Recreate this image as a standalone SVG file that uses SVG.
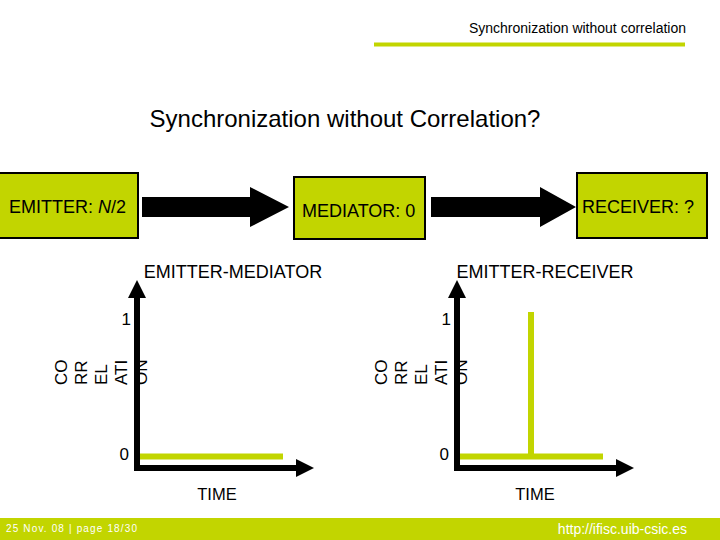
<svg xmlns="http://www.w3.org/2000/svg" width="720" height="540" viewBox="0 0 720 540">
<style>
text{font-family:"Liberation Sans",Arial,sans-serif;fill:#000}
.box{fill:#c2d500;stroke:#000;stroke-width:2}
.lbl{font-size:18px}
.ax{stroke:#000;stroke-width:6;fill:none}
.g{stroke:#c2d500;stroke-width:6;fill:none}
.tick{font-size:17px;text-anchor:end}
.vt{font-size:17px}
.mid{text-anchor:middle}
</style>
<defs>
<marker id="ah" viewBox="0 0 10 10" refX="0" refY="5" markerWidth="3" markerHeight="3" orient="auto" markerUnits="strokeWidth">
<path d="M0,0 L10,5 L0,10 z" fill="#000"/>
</marker>
</defs>
<rect width="720" height="540" fill="#fff"/>
<text x="686" y="33" font-size="14" text-anchor="end">Synchronization without correlation</text>
<rect x="374" y="42.5" width="311" height="4" fill="#c2d500"/>
<text x="345" y="127" font-size="24" class="mid">Synchronization without Correlation?</text>

<g id="connectors">
<path d="M142,197 H250 V187 L289,207 L250,227 V217 H142 z" fill="#000"/>
<path d="M431,197 H540 V187 L576,207 L540,227 V217 H431 z" fill="#000"/>
</g>

<g id="emitter">
<rect class="box" x="-1" y="173" width="139" height="65"/>
<text class="lbl" x="9" y="213">EMITTER: <tspan font-style="italic">N</tspan>/2</text>
</g>
<g id="mediator">
<rect class="box" x="294" y="177" width="131" height="62"/>
<text class="lbl" x="302" y="217">MEDIATOR: 0</text>
</g>
<g id="receiver">
<rect class="box" x="577" y="173" width="130" height="65"/>
<text class="lbl" x="582" y="213">RECEIVER: ?</text>
</g>

<g id="chart-emitter-mediator">
<text x="233" y="278" font-size="18" class="mid">EMITTER-MEDIATOR</text>
<path class="ax" d="M137,471 V298" marker-end="url(#ah)"/>
<path class="ax" d="M134,468 H296" marker-end="url(#ah)"/>
<path class="g" d="M140,456.5 H283"/>
<text class="tick" x="131" y="325">1</text>
<text class="tick" x="129" y="460">0</text>
<text class="vt" transform="translate(67,385) rotate(-90)">CO</text>
<text class="vt" transform="translate(87,385) rotate(-90)">RR</text>
<text class="vt" transform="translate(107,385) rotate(-90)">EL</text>
<text class="vt" transform="translate(127,385) rotate(-90)">ATI</text>
<text class="vt" transform="translate(147,385) rotate(-90)">ON</text>
<text x="217" y="500" font-size="16.5" class="mid">TIME</text>
</g>

<g id="chart-emitter-receiver">
<text x="545" y="278" font-size="18" class="mid">EMITTER-RECEIVER</text>
<path class="ax" d="M457,471 V298" marker-end="url(#ah)"/>
<path class="ax" d="M454,468 H616" marker-end="url(#ah)"/>
<path class="g" d="M460,456.5 H603 M531,312 V456"/>
<text class="tick" x="451" y="325">1</text>
<text class="tick" x="449" y="460">0</text>
<text class="vt" transform="translate(387,385) rotate(-90)">CO</text>
<text class="vt" transform="translate(407,385) rotate(-90)">RR</text>
<text class="vt" transform="translate(427,385) rotate(-90)">EL</text>
<text class="vt" transform="translate(447,385) rotate(-90)">ATI</text>
<text class="vt" transform="translate(467,385) rotate(-90)">ON</text>
<text x="535" y="500" font-size="16.5" class="mid">TIME</text>
</g>

<rect x="0" y="518" width="720" height="22" fill="#c2d500"/>
<text x="6" y="532" font-size="10" textLength="131" lengthAdjust="spacing" style="fill:#fff">25 Nov. 08 |  page 18/30</text>
<text x="687" y="534" font-size="14" text-anchor="end" style="fill:#fff">http://ifisc.uib-csic.es</text>
</svg>
